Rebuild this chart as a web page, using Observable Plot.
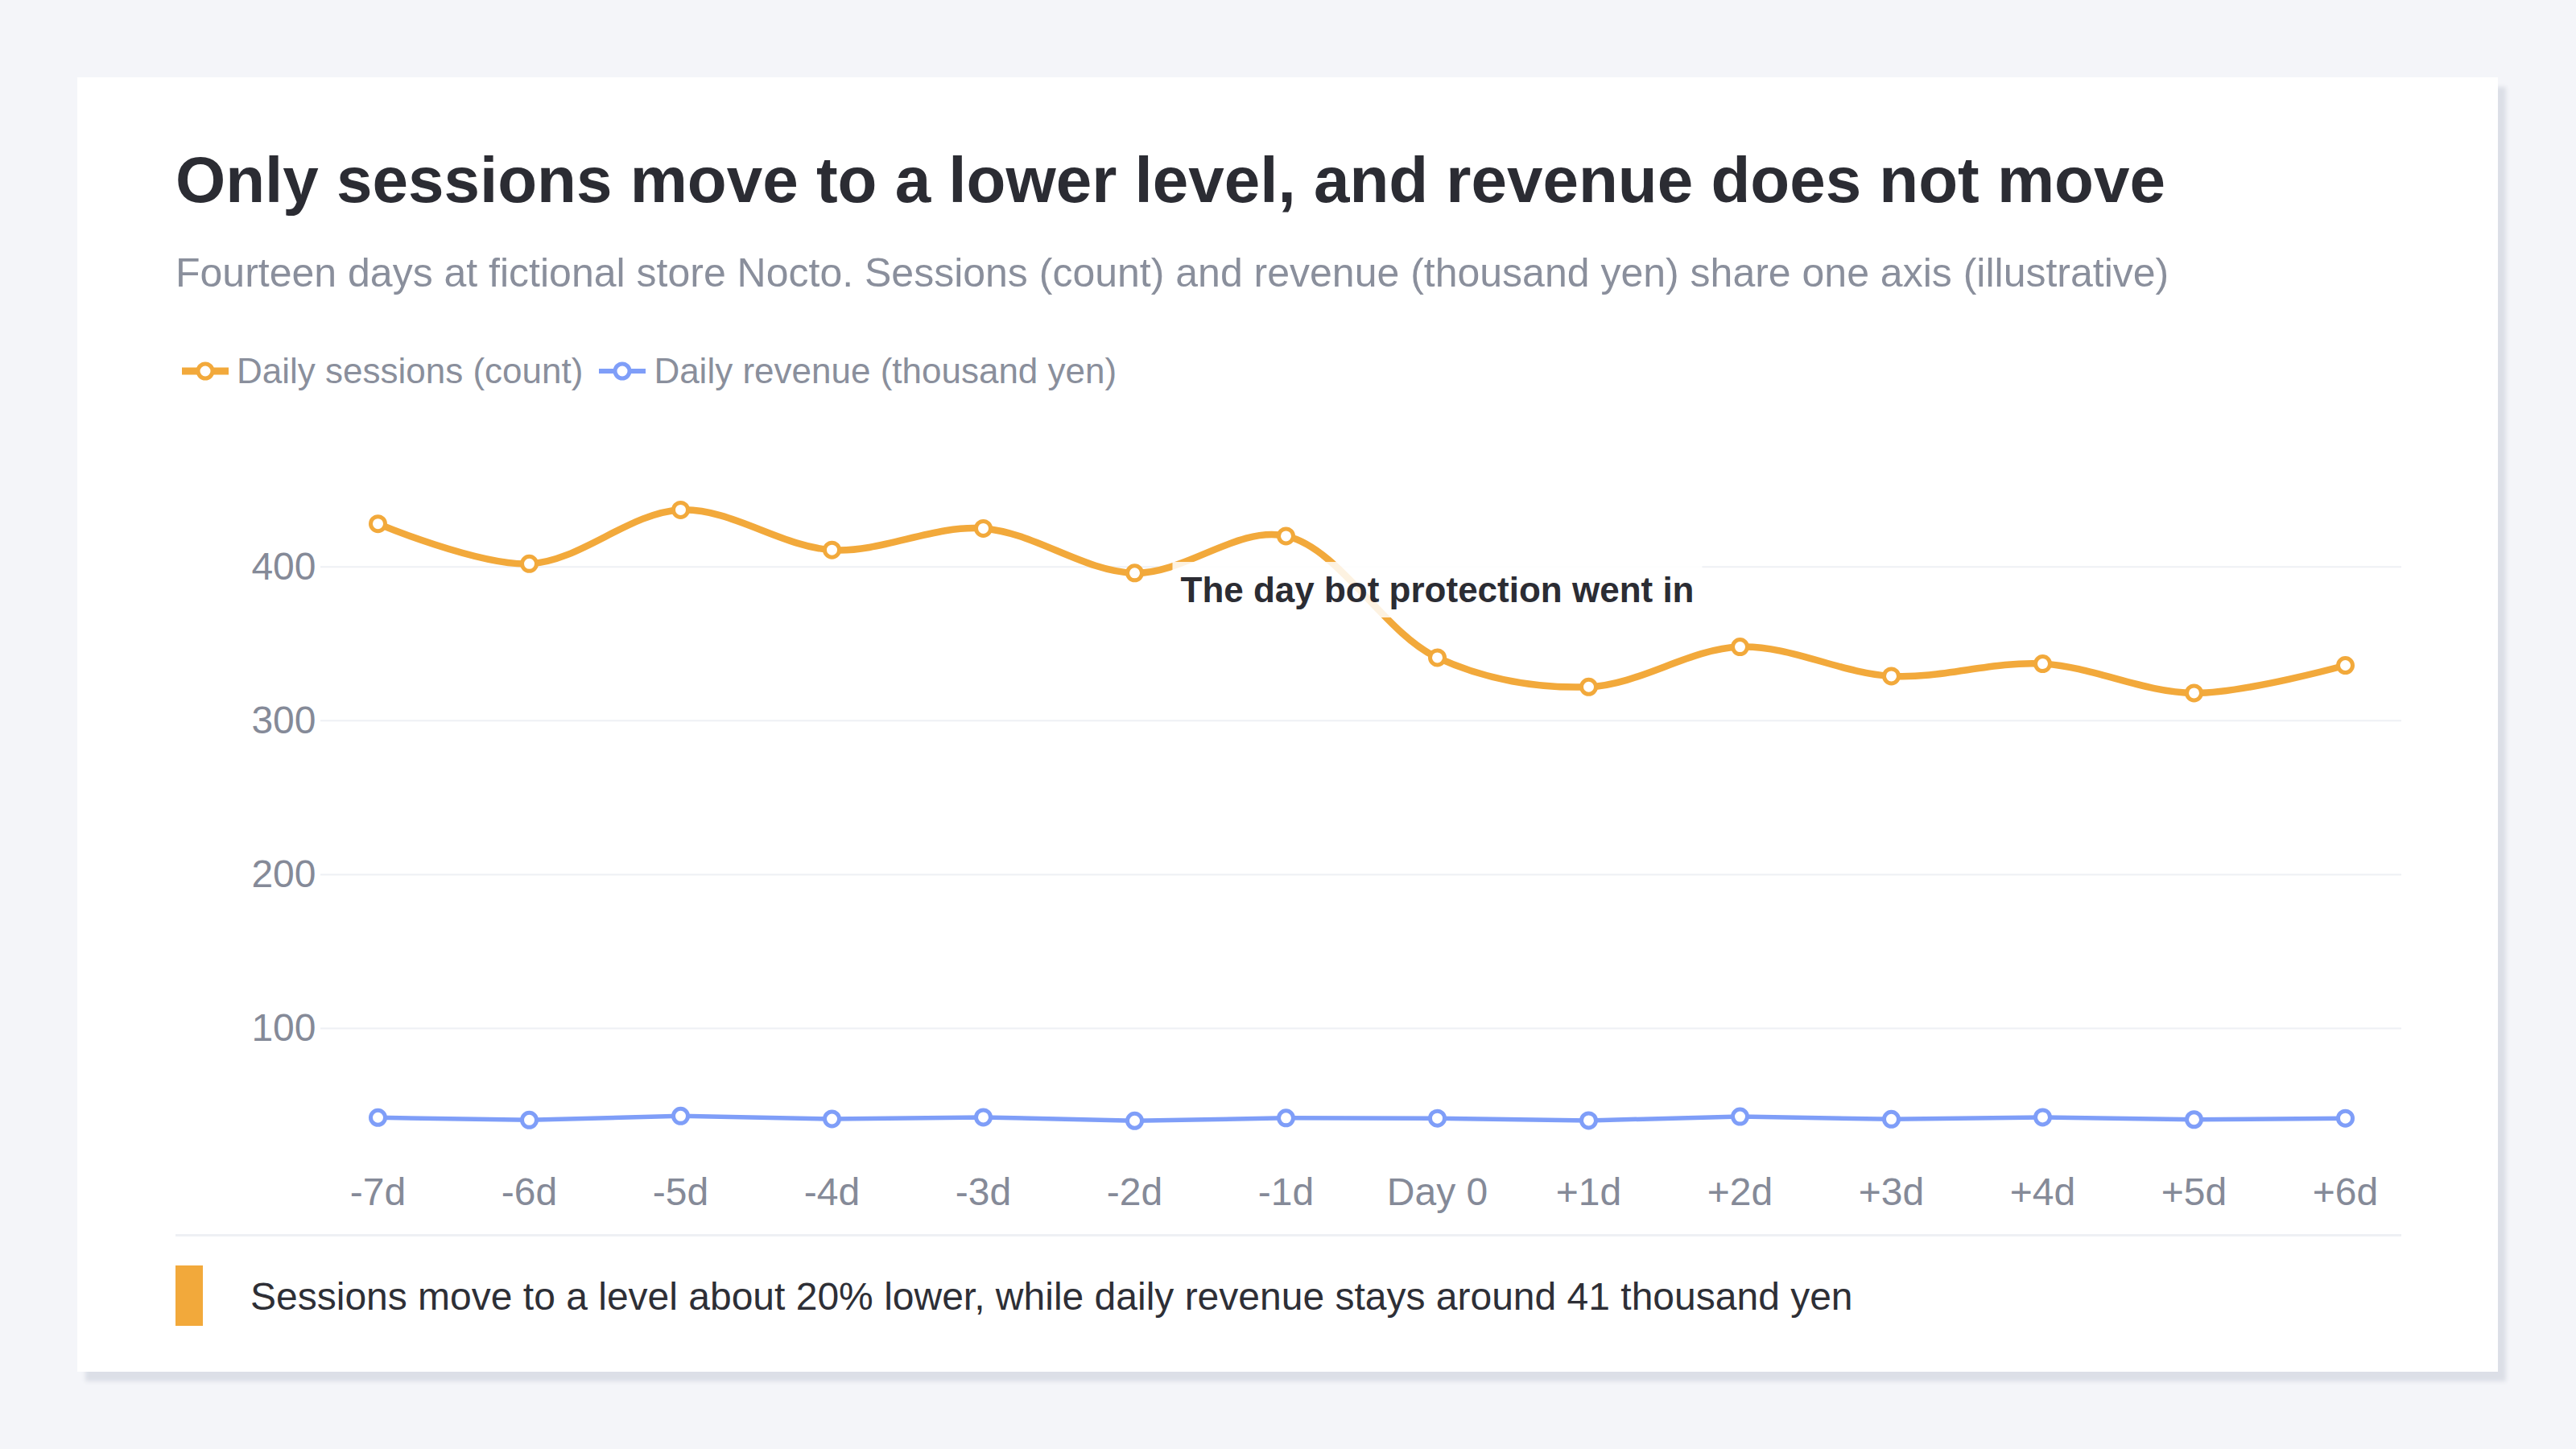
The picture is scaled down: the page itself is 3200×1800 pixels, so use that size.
<!DOCTYPE html>
<html>
<head>
<meta charset="utf-8">
<script src="https://cdn.jsdelivr.net/npm/d3@7"></script>
<script src="https://cdn.jsdelivr.net/npm/@observablehq/plot@0.6"></script>
<style>
  html, body { margin: 0; padding: 0; }
  body { width: 3200px; height: 1800px; background: #f4f5f9; font-family: "Liberation Sans", Arial, Helvetica, sans-serif; position: relative; overflow: hidden; }
  #card { position: absolute; left: 96px; top: 96px; width: 3007px; height: 1608px; background: #ffffff; box-shadow: 10px 12px 5px #dcdfe7; }
  .abs { position: absolute; left: 122px; white-space: nowrap; line-height: 1; }
  #title { top: 88px; font-size: 80px; font-weight: bold; color: #2b2c33; }
  #subtitle { top: 218px; font-size: 50px; color: #8a8f9c; }
  #legend { top: 343px; font-size: 44px; color: #8a8f9c; display: flex; align-items: center; }
  .item { display: flex; align-items: center; margin-right: 20px; }
  .item svg { margin-right: 10px; }
  #chart { top: 444px; width: 2765px; height: 985px; }
  #sep { top: 1437px; width: 2765px; height: 3px; background: #eef0f4; }
  #bar { top: 1476px; width: 34px; height: 75px; background: #f2a93b; }
  #note { top: 1491px; left: 215px; font-size: 48px; color: #2e2f36; }
</style>
</head>
<body>
<div id="card">
  <div id="title" class="abs"></div>
  <div id="subtitle" class="abs"></div>
  <div id="legend" class="abs"></div>
  <div id="chart" class="abs"></div>
  <div id="sep" class="abs"></div>
  <div id="bar" class="abs"></div>
  <div id="note" class="abs"></div>
</div>
<script>
const titleText = "Only sessions move to a lower level, and revenue does not move";
const subtitleText = "Fourteen days at fictional store Nocto. Sessions (count) and revenue (thousand yen) share one axis (illustrative)";
const noteText = "Sessions move to a level about 20% lower, while daily revenue stays around 41 thousand yen";
const annotationText = "The day bot protection went in";
const annotationDay = "Day 0";

const days = ["-7d", "-6d", "-5d", "-4d", "-3d", "-2d", "-1d", "Day 0", "+1d", "+2d", "+3d", "+4d", "+5d", "+6d"];
const sessions = [428, 402, 437, 411, 425, 396, 420, 341, 322, 348, 329, 337, 318, 336];
const revenue = [42.1, 40.5, 43.1, 41.2, 42.3, 40.0, 41.8, 41.6, 40.2, 42.7, 41.0, 42.3, 40.8, 41.6];
const yTicks = [100, 200, 300, 400];
const seriesNames = ["Daily sessions (count)", "Daily revenue (thousand yen)"];
const colors = ["#f2a93b", "#7f9ef8"];

document.getElementById("title").textContent = titleText;
document.getElementById("subtitle").textContent = subtitleText;
document.getElementById("note").textContent = noteText;

// legend
const legend = document.getElementById("legend");
seriesNames.forEach((name, i) => {
  const item = document.createElement("div");
  item.className = "item";
  if (i === 0) item.style.marginLeft = "8px";
  const sw = i === 0 ? 9 : 6;
  item.innerHTML = `<svg width="58" height="30" viewBox="0 0 58 30"><line x1="0" y1="15" x2="58" y2="15" stroke="${colors[i]}" stroke-width="${sw}"/><circle cx="29" cy="15" r="9" fill="#fff" stroke="${colors[i]}" stroke-width="5"/></svg><span>${name}</span>`;
  legend.appendChild(item);
});

const sData = days.map((d, i) => ({day: d, value: sessions[i]}));
const rData = days.map((d, i) => ({day: d, value: revenue[i]}));
const annot = sData.filter(d => d.day === annotationDay);

const chart = Plot.plot({
  width: 2765,
  height: 985,
  marginLeft: 180,
  marginRight: 0,
  marginTop: 49,
  marginBottom: 95,
  style: {fontFamily: '"Liberation Sans", Arial, Helvetica, sans-serif', fontSize: "48px", color: "#858a98", background: "transparent", overflow: "visible"},
  x: {type: "point", domain: days, padding: 0.35, label: null},
  y: {domain: [20, 460], label: null},
  marks: [
    Plot.gridY(yTicks, {stroke: "#eef0f4", strokeOpacity: 1, strokeWidth: 2}),
    Plot.axisY(yTicks, {tickSize: 0, tickPadding: 6, fill: "#858a98", fontSize: 48}),
    Plot.axisX({tickSize: 0, tickPadding: 32, fill: "#858a98", fontSize: 48}),
    Plot.line(rData, {x: "day", y: "value", stroke: colors[1], strokeWidth: 5.5}),
    Plot.dot(rData, {x: "day", y: "value", r: 9, fill: "#fff", stroke: colors[1], strokeWidth: 5}),
    Plot.line(sData, {x: "day", y: "value", stroke: colors[0], strokeWidth: 8.5, curve: "catmull-rom"}),
    Plot.dot(sData, {x: "day", y: "value", r: 9, fill: "#fff", stroke: colors[0], strokeWidth: 5}),
    Plot.text(annot, {x: "day", y: "value", text: () => annotationText, dy: -83, fontSize: 44, fontWeight: "bold", fill: "#2b2c33", textAnchor: "middle", className: "annot"})
  ]
});
document.getElementById("chart").appendChild(chart);

// translucent box behind the annotation
const t = chart.querySelector(".annot text");
if (t) {
  const bb = t.getBBox();
  const pad = 10;
  const rect = document.createElementNS("http://www.w3.org/2000/svg", "rect");
  rect.setAttribute("x", bb.x - pad);
  rect.setAttribute("y", bb.y - pad);
  rect.setAttribute("width", bb.width + 2 * pad);
  rect.setAttribute("height", bb.height + 2 * pad);
  rect.setAttribute("fill", "#ffffff");
  rect.setAttribute("fill-opacity", "0.85");
  const tr = t.getAttribute("transform");
  if (tr) rect.setAttribute("transform", tr);
  t.parentNode.insertBefore(rect, t);
}
</script>
</body>
</html>
